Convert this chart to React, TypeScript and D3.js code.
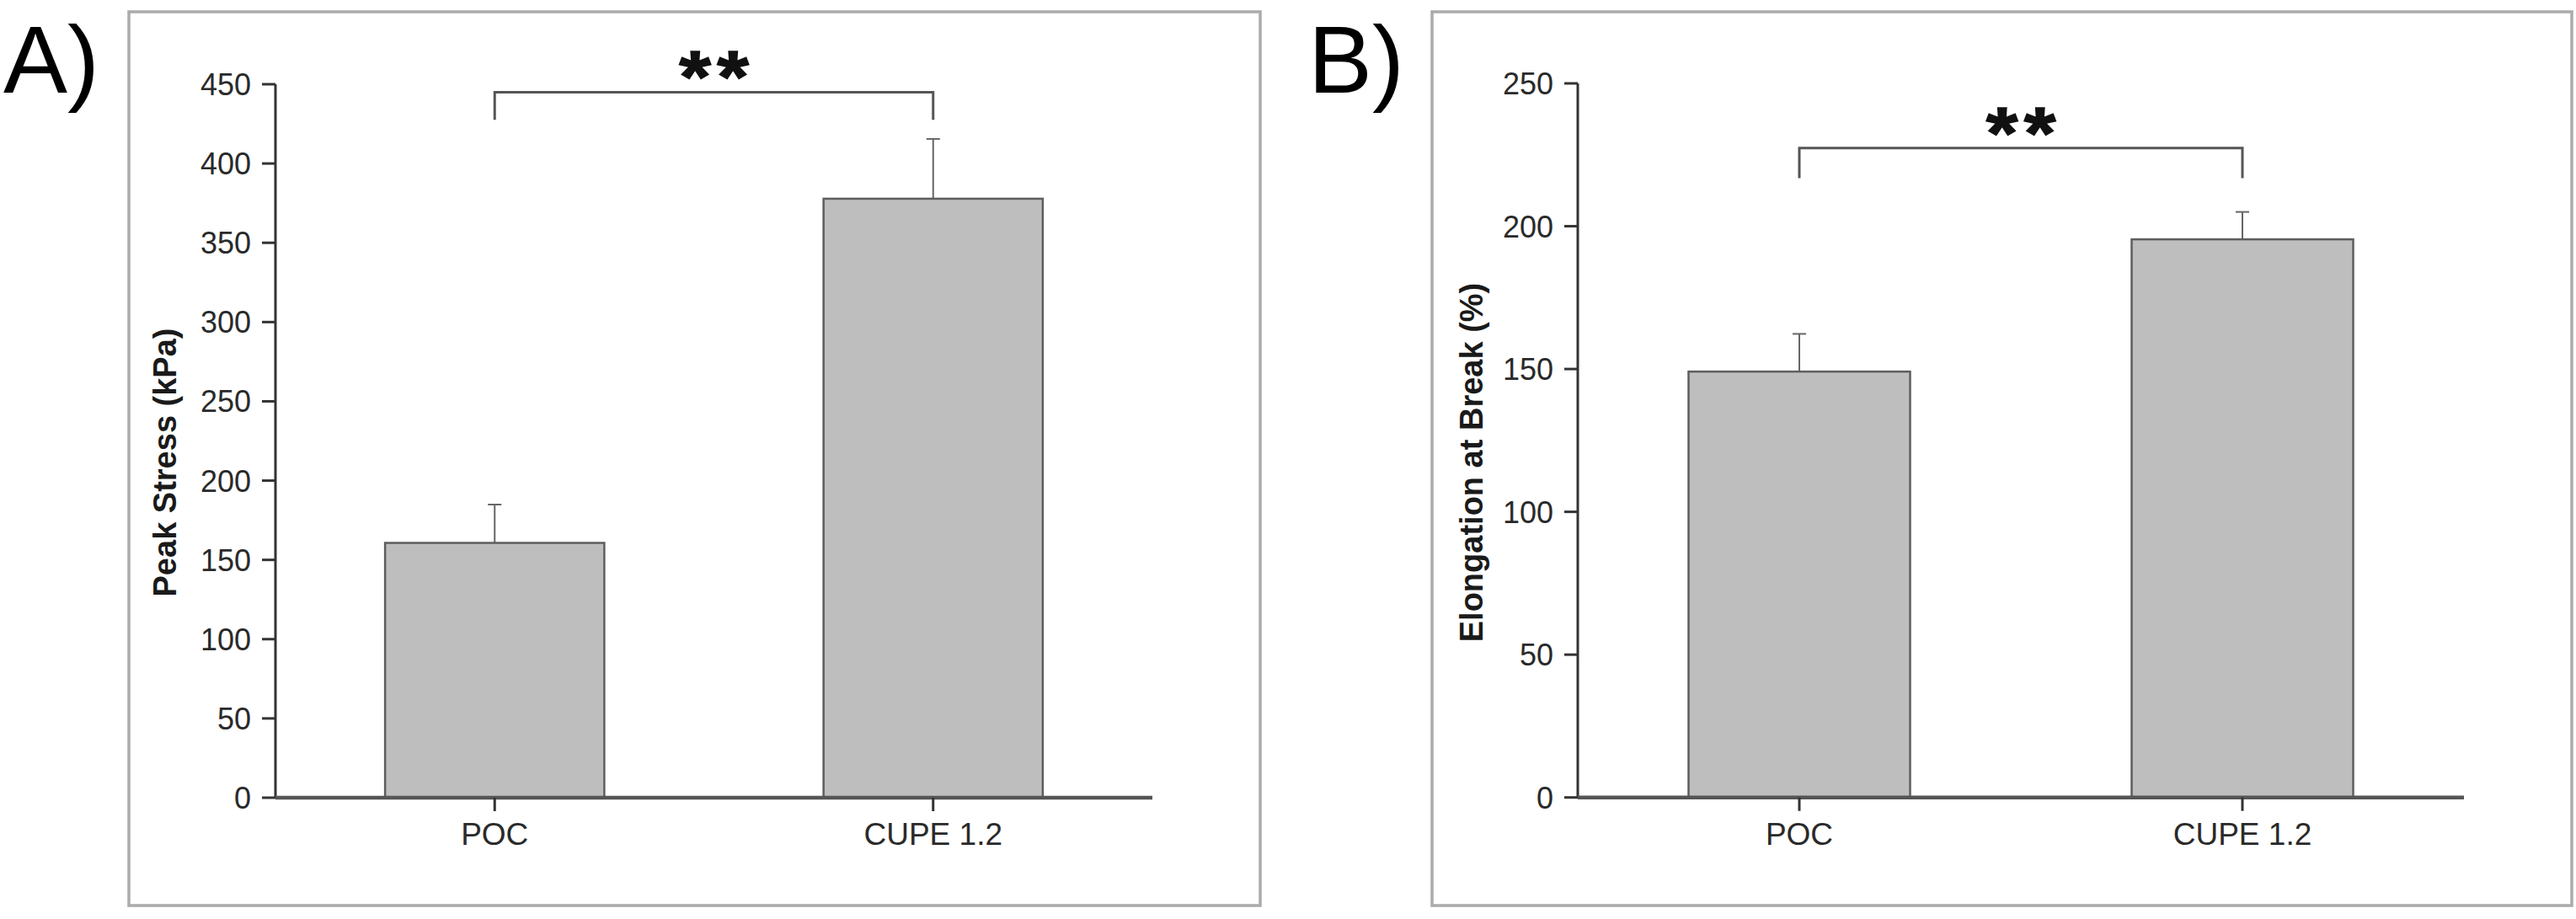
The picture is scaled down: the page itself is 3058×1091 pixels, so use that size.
import React from "react";
import * as d3 from "d3";

const categories = ["POC", "CUPE 1.2"];
const stressMean = [160.7, 377.8];
const stressErr = [24.2, 37.7];
const stressTicks = [0, 50, 100, 150, 200, 250, 300, 350, 400, 450];
const elongMean = [149.1, 195.4];
const elongErr = [13.2, 9.6];
const elongTicks = [0, 50, 100, 150, 200, 250];
// significance bracket: [level, leg end] in data units
const stressSig = [445, 427.5];
const elongSig = [227.4, 216.8];
const sigText = "**";

const FONT = "'Liberation Sans', Arial, Helvetica, sans-serif";

type PanelProps = {
  letter: string;
  letterX: number;
  frame: [number, number, number, number];
  xRange: [number, number];
  yRange: [number, number];
  ticks: number[];
  means: number[];
  errs: number[];
  sig: number[];
  ylabel: string;
  ylabelX: number;
  ylabelY: number;
};

function Panel(p: PanelProps) {
  const y = d3
    .scaleLinear()
    .domain([0, p.ticks[p.ticks.length - 1]])
    .range(p.yRange);
  const x = d3
    .scaleBand<string>()
    .domain(categories)
    .range(p.xRange)
    .paddingInner(0.5)
    .paddingOuter(0.25);
  const [fx0, fy0, fx1, fy1] = p.frame;
  const axisX = p.xRange[0];
  const y0 = y(0);
  const cx = (c: string) => (x(c) as number) + x.bandwidth() / 2;
  const bx0 = cx(categories[0]);
  const bx1 = cx(categories[1]);
  const by = y(p.sig[0]);
  const byLeg = y(p.sig[1]);
  const starChars = sigText.split("");
  const starGap = 45;
  const mid = (bx0 + bx1) / 2;
  return (
    <g>
      <rect
        x={fx0}
        y={fy0}
        width={fx1 - fx0}
        height={fy1 - fy0}
        fill="#fff"
        stroke="#ababab"
        strokeWidth={3.5}
      />
      <text
        x={p.letterX}
        y={110}
        fontFamily={FONT}
        fontSize={114}
        fill="#000"
      >
        {p.letter}
      </text>
      {/* bars */}
      {categories.map((c, i) => (
        <g key={c}>
          <line
            x1={cx(c)}
            x2={cx(c)}
            y1={y(p.means[i])}
            y2={y(p.means[i] + p.errs[i])}
            stroke="#666"
            strokeWidth={2}
          />
          <line
            x1={cx(c) - 8}
            x2={cx(c) + 8}
            y1={y(p.means[i] + p.errs[i])}
            y2={y(p.means[i] + p.errs[i])}
            stroke="#666"
            strokeWidth={2}
          />
          <rect
            x={x(c)}
            y={y(p.means[i])}
            width={x.bandwidth()}
            height={y0 - y(p.means[i])}
            fill="#bebebe"
            stroke="#5e5e5e"
            strokeWidth={2.5}
          />
        </g>
      ))}
      {/* y axis */}
      <line
        x1={axisX}
        x2={axisX}
        y1={y0}
        y2={y(p.ticks[p.ticks.length - 1])}
        stroke="#333"
        strokeWidth={3}
      />
      {p.ticks.map((t) => (
        <g key={t}>
          <line
            x1={axisX - 16}
            x2={axisX}
            y1={y(t)}
            y2={y(t)}
            stroke="#333"
            strokeWidth={3}
          />
          <text
            x={axisX - 29}
            y={y(t)}
            dy="0.36em"
            textAnchor="end"
            fontFamily={FONT}
            fontSize={36}
            fill="#2a2a2a"
          >
            {t}
          </text>
        </g>
      ))}
      {/* x axis */}
      <line
        x1={axisX}
        x2={p.xRange[1]}
        y1={y0}
        y2={y0}
        stroke="#555"
        strokeWidth={4.5}
      />
      {categories.map((c) => (
        <g key={c}>
          <line
            x1={cx(c)}
            x2={cx(c)}
            y1={y0}
            y2={y0 + 16}
            stroke="#333"
            strokeWidth={3}
          />
          <text
            x={cx(c)}
            y={1003}
            textAnchor="middle"
            fontFamily={FONT}
            fontSize={37}
            fill="#2a2a2a"
          >
            {c}
          </text>
        </g>
      ))}
      {/* y label */}
      <text
        transform={`translate(${p.ylabelX},${p.ylabelY}) rotate(-90)`}
        textAnchor="middle"
        fontFamily={FONT}
        fontWeight="bold"
        fontSize={38}
        fill="#1a1a1a"
      >
        {p.ylabel}
      </text>
      {/* significance bracket */}
      <path
        d={`M${bx0},${byLeg}V${by}H${bx1}V${byLeg}`}
        fill="none"
        stroke="#555"
        strokeWidth={3}
      />
      {starChars.map((ch, i) => (
        <text
          key={i}
          transform={`translate(${mid + (i - (starChars.length - 1) / 2) * starGap},${by + 12}) scale(1.1,1)`}
          textAnchor="middle"
          fontFamily={FONT}
          fontWeight="bold"
          fontSize={88}
          fill="#111"
          stroke="#111"
          strokeWidth={1.5}
        >
          {ch}
        </text>
      ))}
    </g>
  );
}

export default function App() {
  return (
    <svg
      width={3058}
      height={1091}
      style={{ position: "absolute", left: 0, top: 0, background: "#fff" }}
    >
      <rect x={0} y={0} width={3058} height={1091} fill="#fff" />
      <Panel
        letter="A)"
        letterX={4}
        frame={[153, 14, 1496, 1075]}
        xRange={[327, 1368]}
        yRange={[947, 100]}
        ticks={stressTicks}
        means={stressMean}
        errs={stressErr}
        sig={stressSig}
        ylabel="Peak Stress (kPa)"
        ylabelX={209}
        ylabelY={549}
      />
      <Panel
        letter="B)"
        letterX={1553}
        frame={[1700, 14, 3053, 1075]}
        xRange={[1873, 2925]}
        yRange={[946.7, 99]}
        ticks={elongTicks}
        means={elongMean}
        errs={elongErr}
        sig={elongSig}
        ylabel="Elongation at Break (%)"
        ylabelX={1760}
        ylabelY={549}
      />
    </svg>
  );
}
